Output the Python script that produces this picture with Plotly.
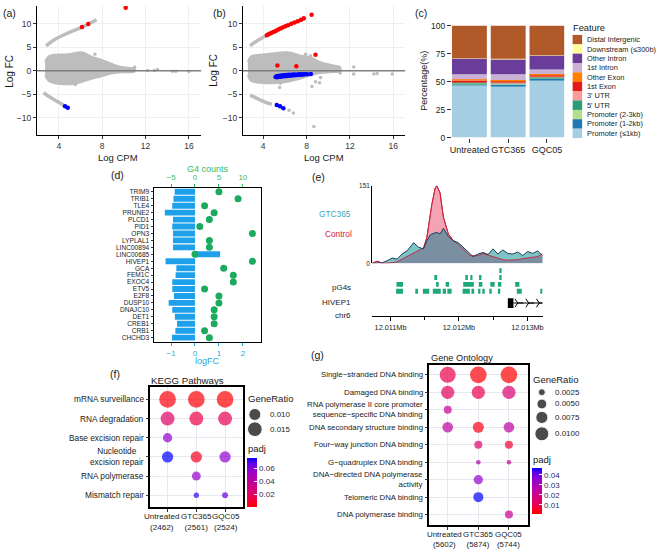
import numpy as np
import plotly.graph_objects as go

W, H = 661, 554
FONT = "Liberation Sans, Arial, Helvetica, sans-serif"

# ================= DATA =================
# ---- (a) MA plot (Untreated)
a_cloud_cpm = [2.74, 3.05, 3.66, 4.89, 6.11, 7.03, 7.94, 8.86, 9.78, 11.0]
a_cloud_hi = [1.8, 3.0, 3.4, 3.5, 3.9, 3.0, 2.3, 1.46, 0.77, 0.35]
a_cloud_lo = [-0.97, -2.15, -2.7, -2.9, -2.4, -1.74, -1.2, -0.63, -0.35, -0.21]
a_band_up_cpm = [2.83, 3.66, 4.89, 6.11, 7.49]
a_band_up_fc = [5.27, 6.67, 8.06, 9.23, 10.83]
a_band_dn_cpm = [2.6, 3.36, 4.12, 4.73]
a_band_dn_fc = [-4.7, -5.9, -6.9, -7.75]
a_grey_cpm = [7.33, 5.3, 5.54, 10.99, 12.2, 12.8, 13.1, 14.5, 14.8, 16.0]
a_grey_fc = [3.5, -2.75, -2.95, 0.74, 0.05, 0.05, 0.25, -0.15, -0.15, -0.2]
a_up_cpm = [6.14, 6.72, 10.17]
a_up_fc = [9.32, 9.95, 13.42]
a_dn_cpm = [4.58, 4.83]
a_dn_fc = [-7.6, -7.9]

# ---- (b) MA plot (GTC365)
b_cloud_cpm = [2.6, 2.87, 4.40, 6.24, 7.46, 8.38, 9.29, 10.5, 11.1]
b_cloud_hi = [1.8, 3.0, 3.54, 3.9, 3.2, 2.85, 1.8, 1.1, 0.77]
b_cloud_lo = [-0.97, -2.15, -2.7, -2.36, -1.67, -0.97, -0.49, -0.28, -0.2]
b_band_up_cpm = [2.8, 3.2, 3.7, 4.3, 5.0, 5.8, 6.6, 7.3, 7.9]
b_band_up_fc = [5.3, 6.0, 6.7, 7.5, 8.3, 9.2, 10.0, 10.6, 11.2]
b_band_dn_cpm = [2.8, 3.3, 3.8, 4.3, 4.8]
b_band_dn_fc = [-5.2, -5.75, -6.3, -6.8, -7.15]
b_grey_cpm = [12.35, 11.1, 12.35, 14.2, 14.5, 15.9, 9.29, 8.83, 9.2, 8.5, 5.6, 5.53,
              6.39, 6.79, 8.68, 7.92, 8.38]
b_grey_fc = [0.77, -0.49, -0.7, -0.7, -0.6, -0.7, -1.45, -2.36, -2.6, -3.4, -2.7, -3.6,
             -8.45, -9.0, -11.9, 3.5, 3.2]
b_up_cpm = [4.35, 4.5, 4.65, 4.8, 5.0, 5.2, 5.4, 5.6, 5.8, 6.05, 6.3, 6.6, 6.9, 7.2, 7.5,
            7.75, 8.47, 8.83, 5.32, 7.06]
b_up_fc = [7.55, 7.75, 7.9, 8.1, 8.3, 8.5, 8.75, 9.0, 9.2, 9.45, 9.7, 10.0, 10.25, 10.55,
           10.85, 11.15, 11.9, 3.4, 1.08, 0.95]
b_dn_cpm = [5.15, 5.25, 5.3, 5.4, 5.45, 5.55, 5.6, 5.7, 5.75, 5.85, 5.9, 6.0, 6.05, 6.15,
            6.2, 6.3, 6.35, 6.45, 6.5, 6.6, 6.65, 6.75, 6.85, 6.9, 7.0, 7.1, 7.2, 7.3, 7.4,
            7.5, 7.6, 7.75, 7.9, 8.05, 8.4, 5.26, 5.56, 5.87]
b_dn_fc = [-1.35, -1.2, -1.4, -1.25, -1.1, -1.3, -1.15, -1.05, -1.25, -1.1, -1.0, -1.2,
           -1.05, -0.95, -1.15, -1.0, -0.9, -1.1, -0.95, -0.85, -1.05, -0.9, -0.8, -1.0,
           -0.85, -0.95, -0.8, -0.9, -0.78, -0.85, -0.75, -0.8, -0.72, -0.78, -0.7,
           -7.3, -7.6, -8.0]

# ---- (c) genomic feature distribution (%)
c_groups = ["Untreated", "GTC365", "GQC05"]
c_features = ["Promoter (≤1kb)", "Promoter (1-2kb)", "Promoter (2-3kb)", "5' UTR", "3' UTR",
              "1st Exon", "Other Exon", "1st Intron", "Other Intron", "Downstream (≤300b)",
              "Distal Intergenic"]
c_colors = ["#A6CEE3", "#1F78B4", "#B2DF8A", "#2A9D78", "#FB9A99", "#E31A1C", "#FF7F00",
            "#CAB2D6", "#6A3D9A", "#FFFF99", "#B15928"]
c_untreated = [46.5, 1.5, 0.8, 0.3, 0.8, 1.0, 1.2, 4.5, 14.0, 0.3, 29.1]
c_gtc365 = [46.0, 1.5, 0.7, 0.3, 0.7, 1.0, 1.3, 5.0, 13.5, 0.3, 29.7]
c_gqc05 = [51.5, 1.3, 0.7, 0.3, 0.7, 1.0, 1.3, 4.0, 12.5, 0.3, 26.4]

# ---- (d) genes: logFC and G4 counts
d_genes = ["TRIM9", "TRIB1", "TLE4", "PRUNE2", "PLCD1", "PID1", "OPN3", "LYPLAL1",
           "LINC00894", "LINC00685", "HIVEP1", "GCA", "FEM1C", "EXOC4", "ETV5", "E2F8",
           "DUSP10", "DNAJC10", "DET1", "CREB1", "CRB1", "CHCHD3"]
d_logfc = [-0.85, -0.9, -0.95, -1.26, -0.92, -0.95, -0.92, -0.92, -0.92, 1.05, -1.23,
           -0.78, -0.81, -0.95, -0.95, -0.88, -1.1, -0.95, -0.84, -0.75, -0.82, -0.96]
d_g4 = [5, 9, 2, 4, 3, 1, 12, 3, 3, 0, 12, 6, 8, 8, 2, 5, 5, 4, 4, 4, 2, 3]

# ---- (e) coverage track at HIVEP1 locus (chr6)
cov_pos = [12010734, 12010806, 12010879, 12010951, 12011024, 12011096, 12011169, 12011241,
           12011338, 12011410, 12011483, 12011531, 12011579, 12011603, 12011652, 12011676,
           12011724, 12011772, 12011845, 12011917, 12011990, 12012062, 12012159, 12012207,
           12012280, 12012352, 12012425, 12012497, 12012569, 12012642, 12012714, 12012787,
           12012859, 12012932, 12013004, 12013077, 12013149, 12013221]
cov_gtc365 = [0, 1, 1, 5, 10, 8, 18, 24, 40, 31, 28, 44, 55, 57, 60, 60, 57, 68, 52, 44,
              40, 31, 18, 13, 18, 21, 17, 28, 18, 26, 19, 18, 22, 15, 23, 19, 24, 15]
cov_control = [0, 4, 0, 0, 1, 3, 8, 13, 20, 26, 30, 50, 95, 114, 146, 151, 137, 90, 57,
               44, 37, 28, 15, 14, 15, 19, 16, 14, 11, 7, 6, 6, 7, 9, 10, 12, 13, 18]
pg4_start = [12012594,
             12011652, 12012101, 12012169, 12012294, 12012594,
             12011087, 12011666, 12011806, 12012062, 12012289, 12012458, 12012569, 12012821,
             12011082, 12011362, 12011473, 12011618, 12011763, 12011830, 12012053, 12012183,
             12012280, 12012352, 12012449, 12012569, 12012845, 12013202]
pg4_end = [12012623,
           12011681, 12012130, 12012197, 12012328, 12012623,
           12011183, 12011705, 12011855, 12012217, 12012342, 12012521, 12012618, 12012883,
           12011183, 12011401, 12011565, 12011734, 12011811, 12011893, 12012159, 12012222,
           12012313, 12012376, 12012478, 12012603, 12012917, 12013221]
pg4_row = [4, 3, 3, 3, 3, 3, 2, 2, 2, 2, 2, 2, 2, 2, 1, 1, 1, 1, 1, 1, 1, 1, 1, 1, 1, 1, 1, 1]
gene_exon = [12012714, 12012796]
gene_line = [12012796, 12013221]
gene_arrows = [12012859, 12013019, 12013173]
chr_ticks = [12011000, 12012000, 12013000]
chr_ticktext = ["12.011Mb", "12.012Mb", "12.013Mb"]
chr_minor = [12011500, 12012500]

# ---- (f) KEGG dot plot
kegg_terms = ["mRNA surveillance", "RNA degradation", "Base excision repair",
              "Nucleotide<br>excision repair", "RNA polymerase", "Mismatch repair"]
kegg_groups = ["Untreated<br>(2462)", "GTC365<br>(2561)", "GQC05<br>(2524)"]
kegg_pt_term = [0, 0, 0, 1, 1, 1, 2, 3, 3, 3, 4, 5, 5]
kegg_pt_group = [0, 1, 2, 0, 1, 2, 0, 0, 1, 2, 1, 1, 2]
kegg_ratio = [0.0194, 0.0194, 0.0194, 0.0136, 0.0136, 0.0136, 0.0060, 0.0089, 0.0089,
              0.0089, 0.0056, 0.0020, 0.0025]
kegg_padj = [0.004, 0.003, 0.002, 0.022, 0.015, 0.018, 0.058, 0.076, 0.008, 0.058, 0.056,
             0.072, 0.066]
kegg_size_breaks = [0.010, 0.015]

# ---- (g) GO dot plot
go_terms = ["Single−stranded DNA binding", "Damaged DNA binding",
            "RNA polymerase II core promoter<br>sequence−specific DNA binding",
            "DNA secondary structure binding", "Four−way junction DNA binding",
            "G−quadruplex DNA binding", "DNA−directed DNA polymerase<br>activity",
            "Telomeric DNA binding", "DNA polymerase binding"]
go_groups = ["Untreated<br>(5602)", "GTC365<br>(5874)", "GQC05<br>(5744)"]
go_pt_term = [0, 0, 0, 1, 1, 1, 2, 3, 3, 3, 4, 4, 5, 5, 6, 7, 8]
go_pt_group = [0, 1, 2, 0, 1, 2, 0, 0, 1, 2, 1, 2, 1, 2, 1, 1, 2]
go_ratio = [0.0131, 0.0142, 0.0142, 0.0090, 0.0090, 0.0090, 0.0033, 0.0058, 0.0062, 0.0058,
            0.0033, 0.0033, 0.0011, 0.0011, 0.0044, 0.0051, 0.0033]
go_padj = [0.010, 0.002, 0.0013, 0.012, 0.010, 0.016, 0.022, 0.025, 0.004, 0.025, 0.014,
           0.007, 0.030, 0.022, 0.035, 0.047, 0.022]
go_size_breaks = [0.0025, 0.0050, 0.0075, 0.0100]

# ================= HELPERS =================
def dx(l, r):
    return [l / W, r / W]


def dy(t, b):
    return [1 - b / H, 1 - t / H]


def ann(text, x, y, size=9, color="#1a1a1a", xanchor="center", angle=0):
    return dict(text=text, x=x / W, y=1 - y / H, xref="paper", yref="paper",
                showarrow=False, font=dict(size=size, color=color, family=FONT),
                xanchor=xanchor, yanchor="middle", textangle=angle, borderpad=0)


GREY = "#bdbdbd"
PADJ_SCALE = [[0.0, "#FF0000"], [0.25, "#E3005F"], [0.5, "#C1009A"], [0.75, "#9300CF"],
              [0.9, "#5A00EA"], [1.0, "#0000FF"]]

fig = go.Figure()
annotations = []
shapes = []


def add_ma(xa, ya, cloud_cpm, cloud_hi, cloud_lo, bu_x, bu_y, bd_x, bd_y, gx, gy, ux, uy, nx, ny):
    fig.add_trace(go.Scatter(x=list(cloud_cpm) + list(cloud_cpm[::-1]),
                             y=list(cloud_hi) + list(cloud_lo[::-1]),
                             fill="toself", fillcolor=GREY, mode="lines",
                             line=dict(color=GREY, width=2, shape="spline"),
                             xaxis=xa, yaxis=ya, hoverinfo="skip"))
    for bx, by in ((bu_x, bu_y), (bd_x, bd_y)):
        fig.add_trace(go.Scatter(x=bx, y=by, mode="lines",
                                 line=dict(color=GREY, width=3.5, shape="spline"),
                                 xaxis=xa, yaxis=ya, hoverinfo="skip"))
    fig.add_trace(go.Scatter(x=gx, y=gy, mode="markers", marker=dict(color=GREY, size=3.5),
                             xaxis=xa, yaxis=ya))
    fig.add_trace(go.Scatter(x=ux, y=uy, mode="markers", marker=dict(color="#FF0000", size=4.5),
                             xaxis=xa, yaxis=ya))
    fig.add_trace(go.Scatter(x=nx, y=ny, mode="markers", marker=dict(color="#0000FF", size=4.5),
                             xaxis=xa, yaxis=ya))
    shapes.append(dict(type="line", xref=xa + " domain", yref=ya, x0=0, x1=1, y0=0, y1=0,
                       line=dict(color="#7f7f7f", width=1.5), layer="above"))


add_ma("x", "y", a_cloud_cpm, a_cloud_hi, a_cloud_lo, a_band_up_cpm, a_band_up_fc,
       a_band_dn_cpm, a_band_dn_fc, a_grey_cpm, a_grey_fc, a_up_cpm, a_up_fc, a_dn_cpm, a_dn_fc)
add_ma("x2", "y2", b_cloud_cpm, b_cloud_hi, b_cloud_lo, b_band_up_cpm, b_band_up_fc,
       b_band_dn_cpm, b_band_dn_fc, b_grey_cpm, b_grey_fc, b_up_cpm, b_up_fc, b_dn_cpm, b_dn_fc)

# ---- (c) stacked bars
c_mat = np.array([c_untreated, c_gtc365, c_gqc05]).T
c_base = np.cumsum(c_mat, axis=0) - c_mat
for k, feat in enumerate(c_features):
    fig.add_trace(go.Bar(x=c_groups, y=c_mat[k], base=c_base[k], width=0.9,
                         marker=dict(color=c_colors[k], line=dict(width=0)),
                         xaxis="x3", yaxis="y3", name=feat))

# ---- (d) bars + G4 dots
fig.add_trace(go.Bar(x=d_logfc, y=d_genes, orientation="h", width=0.85,
                     marker=dict(color="#1EA1EA", line=dict(width=0)),
                     xaxis="x4", yaxis="y4"))
fig.add_trace(go.Scatter(x=d_g4, y=d_genes, mode="markers",
                         marker=dict(color="#1BAA5E", size=7),
                         xaxis="x5", yaxis="y4"))

# ---- (e) coverage
fig.add_trace(go.Scatter(x=cov_pos, y=cov_control, fill="tozeroy", fillcolor="#F3A3B3",
                         mode="lines", line=dict(color="#D0213C", width=1),
                         xaxis="x6", yaxis="y6"))
fig.add_trace(go.Scatter(x=cov_pos, y=cov_gtc365, fill="tozeroy", fillcolor="#7DC4C6",
                         mode="lines", line=dict(width=0), xaxis="x6", yaxis="y6"))
fig.add_trace(go.Scatter(x=cov_pos, y=np.minimum(cov_control, cov_gtc365), fill="tozeroy",
                         fillcolor="#7B8FA3", mode="lines", line=dict(width=0),
                         xaxis="x6", yaxis="y6"))
fig.add_trace(go.Scatter(x=cov_pos, y=cov_control, mode="lines",
                         line=dict(color="#C8203C", width=0.9), xaxis="x6", yaxis="y6"))
fig.add_trace(go.Scatter(x=cov_pos, y=cov_gtc365, mode="lines",
                         line=dict(color="#1F3F5A", width=1), xaxis="x6", yaxis="y6"))
# pG4 track
pg4_len = np.array(pg4_end) - np.array(pg4_start)
fig.add_trace(go.Bar(x=pg4_len, y=pg4_row, base=pg4_start, orientation="h", width=0.7,
                     marker=dict(color="#1EA67C", line=dict(width=0)),
                     xaxis="x7", yaxis="y7"))
# gene track
fig.add_trace(go.Scatter(x=gene_line, y=[0, 0], mode="lines", line=dict(color="black", width=1),
                         xaxis="x8", yaxis="y8"))
fig.add_trace(go.Bar(x=[gene_exon[1] - gene_exon[0]], y=[0], base=[gene_exon[0]],
                     orientation="h", width=1.33, marker=dict(color="black", line=dict(width=0)),
                     xaxis="x8", yaxis="y8"))
fig.add_trace(go.Scatter(x=gene_arrows, y=[0] * len(gene_arrows), mode="markers",
                         marker=dict(symbol="y-right", size=7, color="black",
                                     line=dict(color="black", width=1)),
                         xaxis="x8", yaxis="y8"))

# ---- (f) KEGG dots
fig.add_trace(go.Scatter(x=[kegg_groups[g] for g in kegg_pt_group],
                         y=[kegg_terms[t] for t in kegg_pt_term], mode="markers",
                         marker=dict(size=[120 * np.sqrt(r) for r in kegg_ratio],
                                     color=kegg_padj, coloraxis="coloraxis", line=dict(width=0)),
                         xaxis="x9", yaxis="y9"))
# ---- (g) GO dots
fig.add_trace(go.Scatter(x=[go_groups[g] for g in go_pt_group],
                         y=[go_terms[t] for t in go_pt_term], mode="markers",
                         marker=dict(size=[140 * np.sqrt(r) for r in go_ratio],
                                     color=go_padj, coloraxis="coloraxis2", line=dict(width=0)),
                         xaxis="x10", yaxis="y10"))

# dot-plot term / group labels (placed through the category axes)
for t in kegg_terms:
    annotations.append(dict(text=t, xref="x9 domain", x=0, xshift=-5, xanchor="right",
                            yref="y9", y=t, yanchor="middle", showarrow=False, align="center",
                            font=dict(size=8.3, color="#222", family=FONT), borderpad=0))
for t in go_terms:
    annotations.append(dict(text=t, xref="x10 domain", x=0, xshift=-5, xanchor="right",
                            yref="y10", y=t, yanchor="middle", showarrow=False, align="right",
                            font=dict(size=7.8, color="#222", family=FONT), borderpad=0))
for gname, shift in zip(kegg_groups, [-6, 0, 1]):
    annotations.append(dict(text=gname, xref="x9", x=gname, xshift=shift, xanchor="center",
                            yref="y9 domain", y=0, yshift=-4, yanchor="top", showarrow=False,
                            align="center", font=dict(size=8.1, color="#222", family=FONT),
                            borderpad=0))
for gname, shift in zip(go_groups, [-3, 0, 0]):
    annotations.append(dict(text=gname, xref="x10", x=gname, xshift=shift, xanchor="center",
                            yref="y10 domain", y=0, yshift=-4, yanchor="top", showarrow=False,
                            align="center", font=dict(size=7.9, color="#222", family=FONT),
                            borderpad=0))

# ---- legend keys on a full-figure pixel axis (x20/y20)
leg_y = [35.3 + 9.54 * i for i in range(len(c_features))]
rev_cols = c_colors[::-1]
rev_feats = c_features[::-1]
fig.add_trace(go.Scatter(x=[578] * len(leg_y), y=leg_y, mode="markers",
                         marker=dict(symbol="square", size=9.5, color=rev_cols, line=dict(width=0)),
                         xaxis="x20", yaxis="y20"))
for yy, name in zip(leg_y, rev_feats):
    annotations.append(ann(name, 587, yy, size=7.4, xanchor="left"))
annotations.append(ann("Feature", 573, 23, size=9.3, xanchor="left"))

kegg_leg_y = [417, 432]
fig.add_trace(go.Scatter(x=[254] * 2, y=kegg_leg_y, mode="markers",
                         marker=dict(size=[120 * np.sqrt(v) for v in kegg_size_breaks], color="black"),
                         xaxis="x20", yaxis="y20"))
for yy, v in zip(kegg_leg_y, kegg_size_breaks):
    annotations.append(ann(f"{v:.3f}", 268, yy, size=8, xanchor="left"))
annotations.append(ann("GeneRatio", 246, 401, size=9.5, xanchor="left"))
annotations.append(ann("padj", 246, 452, size=9.5, xanchor="left"))

go_leg_y = [394.3, 406.3, 420, 436.7]
fig.add_trace(go.Scatter(x=[542.3] * 4, y=go_leg_y, mode="markers",
                         marker=dict(size=[140 * np.sqrt(v) for v in go_size_breaks], color="black"),
                         xaxis="x20", yaxis="y20"))
for yy, v in zip(go_leg_y, go_size_breaks):
    annotations.append(ann(f"{v:.4f}", 555, yy, size=8, xanchor="left"))
annotations.append(ann("GeneRatio", 532.7, 381, size=9.5, xanchor="left"))
annotations.append(ann("padj", 532.7, 463.3, size=9.5, xanchor="left"))

# ---- text annotations
annotations += [
    ann("(a)", 8, 8, size=10.5), ann("(b)", 218.5, 8, size=10.5), ann("(c)", 421, 8, size=10.5),
    ann("(d)", 116, 173, size=10.5), ann("(e)", 318, 175, size=10.5),
    ann("(f)", 114, 376, size=10.5), ann("(g)", 317, 356, size=10.5),
    ann("Log FC", 8, 67, size=10, angle=-90), ann("Log FC", 213, 67, size=10, angle=-90),
    ann("Log CPM", 116.5, 155, size=9.5), ann("Log CPM", 323.5, 155, size=9.5),
    ann("Percentage(%)", 424, 77, size=9, angle=-90),
    ann("G4 counts", 206.5, 167, size=9, color="#33BB66"),
    ann("logFC", 206.5, 363, size=9, color="#29A6DE"),
    ann("GTC365", 335, 213, size=8.3, color="#3AA8B8"),
    ann("Control", 338, 233, size=8.3, color="#D2223E"),
    ann("pG4s", 352, 288, size=8, xanchor="right"),
    ann("HIVEP1", 352, 303, size=8, xanchor="right"),
    ann("chr6", 352, 316.5, size=8, xanchor="right"),
    ann("KEGG Pathways", 149, 382.5, size=9.7, xanchor="left"),
    ann("Gene Ontology", 430, 359, size=9.2, xanchor="left"),
]

# ================= LAYOUT =================
TK = "#333333"


def ma_x(domain, rng, anchor):
    return dict(domain=domain, range=rng, anchor=anchor, showline=True, linecolor="black",
                linewidth=1, ticks="outside", ticklen=3, tickcolor=TK, tickvals=[4, 8, 12, 16],
                tickfont=dict(size=8.5, color=TK), showgrid=True, gridcolor="#efefef",
                zeroline=False, fixedrange=True)


def ma_y(domain, rng, anchor):
    return dict(domain=domain, range=rng, anchor=anchor, showline=True, linecolor="black",
                linewidth=1, ticks="outside", ticklen=3, tickcolor=TK,
                tickvals=[-10, -5, 0, 5, 10], tickfont=dict(size=8.5, color=TK), showgrid=True,
                gridcolor="#efefef", zeroline=False, fixedrange=True)


def hidden(domain, rng, anchor):
    return dict(domain=domain, range=rng, anchor=anchor, visible=False, fixedrange=True)


def dot_axis(domain, cats, anchor, rng):
    return dict(domain=domain, type="category", categoryarray=cats, categoryorder="array",
                tickmode="array", tickvals=cats, showticklabels=False,
                range=rng, anchor=anchor, showline=True, mirror=True, linecolor="black",
                linewidth=1.5, ticks="outside", ticklen=3, tickcolor="#333",
                showgrid=True, gridcolor="#e8e8f0", zeroline=False, fixedrange=True)


XR = [cov_pos[0], cov_pos[-1]]

layout = dict(
    width=W, height=H, margin=dict(l=0, r=0, t=0, b=0), showlegend=False,
    paper_bgcolor="white", plot_bgcolor="rgba(0,0,0,0)", barmode="overlay",
    font=dict(family=FONT, color="#1a1a1a"),
    # (a)
    xaxis=ma_x(dx(35, 200), [1.98, 17.12], "y"),
    yaxis=ma_y(dy(1, 132), [-13.63, 13.78], "x"),
    # (b)
    xaxis2=ma_x(dx(242, 405), [2.14, 17.09], "y2"),
    yaxis2=ma_y(dy(1, 132), [-13.63, 13.78], "x2"),
    # (c)
    xaxis3=dict(domain=dx(452, 565), type="category", categoryarray=c_groups,
                range=[-0.45, 2.45], anchor="y3", ticks="outside", ticklen=4, tickcolor=TK,
                tickfont=dict(size=9, color="#222"), showline=False, showgrid=False,
                zeroline=False, fixedrange=True),
    yaxis3=dict(domain=dy(21, 135), range=[0, 100], anchor="x3", ticks="outside", ticklen=4,
                tickcolor=TK, tickvals=[0, 25, 50, 75, 100], tickfont=dict(size=8.5, color="#222"),
                showline=False, showgrid=False, zeroline=False, fixedrange=True),
    # (d)
    xaxis4=dict(domain=dx(153, 260), range=[-1.7, 2.75], anchor="y4", showline=True,
                mirror=True, linecolor="black", linewidth=1.4, ticks="outside", ticklen=3,
                tickcolor="#29A6DE", tickvals=[-1, 0, 1, 2],
                tickfont=dict(size=8, color="#29A6DE"), showgrid=False, zeroline=False,
                fixedrange=True),
    xaxis5=dict(overlaying="x4", side="top", range=[-8.5, 13.75], anchor="y4",
                ticks="outside", ticklen=3, tickcolor="#33BB66", tickvals=[-5, 0, 5, 10],
                tickfont=dict(size=8, color="#33BB66"), showline=False, showgrid=False,
                zeroline=False, fixedrange=True),
    yaxis4=dict(domain=dy(186, 343), type="category", categoryarray=d_genes,
                categoryorder="array", tickmode="array", tickvals=d_genes, ticktext=d_genes,
                range=[21.6, -0.6], anchor="x4", showline=True,
                mirror=True, linecolor="black", linewidth=1.4, ticks="outside", ticklen=2.5,
                tickcolor="#333", tickfont=dict(size=6.6, color="#222"), showgrid=False,
                zeroline=False, fixedrange=True),
    # (e)
    xaxis6=hidden(dx(372, 543), XR, "y6"),
    yaxis6=dict(domain=dy(184, 263), range=[0, 151], anchor="x6", showline=True,
                linecolor="black", linewidth=1.2, ticks="", tickvals=[0, 151],
                ticktext=["0", "151"], tickfont=dict(size=6.5, color="#222"), showgrid=False,
                zeroline=False, fixedrange=True),
    xaxis7=hidden(dx(372, 543), XR, "y7"),
    yaxis7=hidden(dy(267, 295), [0.5, 4.5], "x7"),
    xaxis8=dict(domain=dx(372, 543), range=XR, anchor="y8", showline=True, linecolor="black",
                linewidth=1, ticks="outside", ticklen=4, tickcolor="black", tickvals=chr_ticks,
                ticktext=chr_ticktext, tickfont=dict(size=7.3, color="#222"),
                minor=dict(tickvals=chr_minor, ticks="outside", ticklen=2.5, tickcolor="black"),
                showgrid=False, zeroline=False, fixedrange=True),
    yaxis8=hidden(dy(296, 317), [-1.8, 1], "x8"),
    # (f)
    xaxis9=dot_axis(dx(149, 242), kegg_groups, "y9", [-0.6, 2.62]),
    yaxis9=dot_axis(dy(389, 511), kegg_terms, "x9", [5.6, -0.65]),
    # (g)
    xaxis10=dot_axis(dx(429.3, 528.3), go_groups, "y10", [-0.6, 2.62]),
    yaxis10=dot_axis(dy(366.7, 530), go_terms, "x10", [8.62, -0.56]),
    # helper pixel axis
    xaxis20=hidden([0, 1], [0, W], "y20"),
    yaxis20=hidden([0, 1], [H, 0], "x20"),
    coloraxis=dict(colorscale=PADJ_SCALE, cmin=min(kegg_padj), cmax=max(kegg_padj),
                   colorbar=dict(x=246 / W, xanchor="left", y=1 - 485.85 / H, yanchor="middle",
                                 len=49.7 / H, lenmode="fraction", thickness=10,
                                 thicknessmode="pixels", outlinewidth=0, xpad=0, ypad=0,
                                 tickvals=[0.02, 0.04, 0.06], ticks="inside", ticklen=3,
                                 tickcolor="white", tickfont=dict(size=8, color="#2b2b5e"))),
    coloraxis2=dict(colorscale=PADJ_SCALE, cmin=min(go_padj), cmax=max(go_padj),
                    colorbar=dict(x=532.3 / W, xanchor="left", y=1 - 494.65 / H,
                                  yanchor="middle", len=47.3 / H, lenmode="fraction",
                                  thickness=10, thicknessmode="pixels", outlinewidth=0, xpad=0,
                                  ypad=0, tickvals=[0.01, 0.02, 0.03, 0.04], ticks="inside",
                                  ticklen=3, tickcolor="white",
                                  tickfont=dict(size=8, color="#2b2b5e"))),
    annotations=annotations,
    shapes=shapes,
)
fig.update_layout(**layout)
fig.update_traces(showlegend=False)
fig.write_html("out.html", config={"displayModeBar": False},
               post_script="document.body.style.margin='0';")
